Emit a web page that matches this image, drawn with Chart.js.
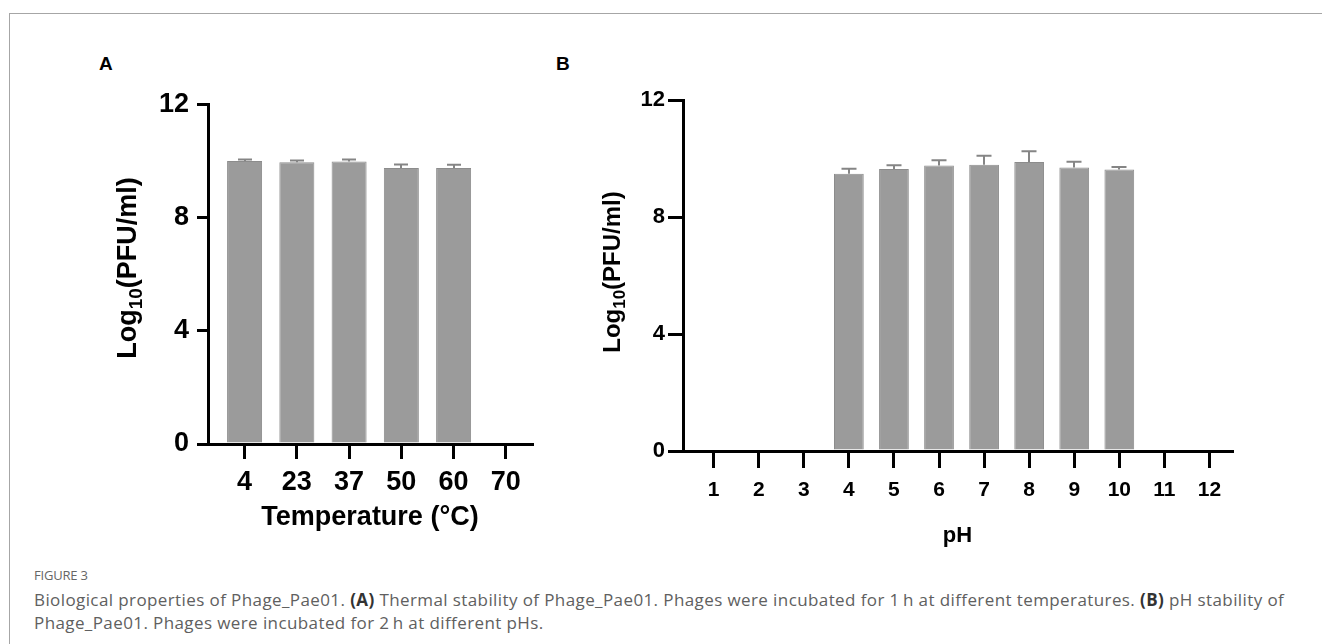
<!DOCTYPE html>
<html>
<head>
<meta charset="utf-8">
<title>Figure 3</title>
<script src="https://cdn.jsdelivr.net/npm/chart.js@4.4.1/dist/chart.umd.min.js"></script>
<style>
  html, body { margin: 0; padding: 0; background: #fff; }
  body { width: 1322px; height: 644px; position: relative; overflow: hidden; }
  .frame { position: absolute; left: 9px; top: 13px; right: -2px; bottom: -2px;
           border-top: 1px solid #a6a6a6; border-left: 1px solid #a6a6a6; }
  .panel-tag { position: absolute; font: bold 19px 'Liberation Sans', Arial, sans-serif; color: #000; }
  .chart-box { position: absolute; }
  .fig-no { position: absolute; left: 34px; top: 566px; font: 13px 'Open Sans', sans-serif;
            color: #666; letter-spacing: -0.2px; }
  .caption { position: absolute; left: 34px; top: 588px; width: 1270px; margin: 0;
             font: 17px/23px 'Open Sans', sans-serif; letter-spacing: 0.4px; color: #606060; }
  .caption b { color: #333; }
</style>
</head>
<body>
<div class="frame"></div>
<div class="panel-tag" style="left:99px; top:53px;">A</div>
<div class="panel-tag" style="left:556px; top:53px;">B</div>

<div class="chart-box" style="left:100px; top:80px; width:445px; height:460px;">
  <canvas id="tempChart"></canvas>
</div>
<div class="chart-box" style="left:560px; top:80px; width:690px; height:470px;">
  <canvas id="phChart"></canvas>
</div>

<div class="fig-no">FIGURE 3</div>
<p class="caption">Biological properties of Phage_Pae01. <b>(A)</b> Thermal stability of Phage_Pae01. Phages were incubated for 1&#8201;h at different temperatures. <b>(B)</b> pH stability of Phage_Pae01. Phages were incubated for 2&#8201;h at different pHs.</p>

<script>
// values (mean log10 PFU/ml, upper SD)
const tempLabels = ['4', '23', '37', '50', '60', '70'];
const tempMeans = [9.99, 9.95, 9.98, 9.75, 9.75, 0];
const tempErrors = [0.06, 0.06, 0.07, 0.12, 0.11, 0];

const phLabels = ['1', '2', '3', '4', '5', '6', '7', '8', '9', '10', '11', '12'];
const phMeans = [0, 0, 0, 9.48, 9.64, 9.76, 9.79, 9.88, 9.69, 9.62, 0, 0];
const phErrors = [0, 0, 0, 0.17, 0.13, 0.18, 0.30, 0.37, 0.20, 0.09, 0, 0];

const yTicks = [0, 4, 8, 12];

const FONT = "'Liberation Sans', Arial, sans-serif";
const BAR_FILL = '#9b9b9b';
const BAR_EDGE = '#8c8c8c';
const ERR_COLOR = '#858585';

// upper error bars, positioned through the chart's own scales
const errorBars = {
  id: 'errorBars',
  afterDatasetsDraw(chart, args, opts) {
    const { ctx } = chart;
    const meta = chart.getDatasetMeta(0);
    const yScale = chart.scales.y;
    ctx.save();
    ctx.strokeStyle = ERR_COLOR;
    ctx.lineWidth = 2;
    opts.errors.forEach((err, i) => {
      if (!err) return;
      const bar = meta.data[i];
      const mean = chart.data.datasets[0].data[i].y;
      const yTop = yScale.getPixelForValue(mean + err);
      const x = Math.round(bar.x);
      ctx.beginPath();
      ctx.moveTo(x, bar.y);
      ctx.lineTo(x, yTop);
      ctx.moveTo(x - opts.cap / 2, yTop);
      ctx.lineTo(x + opts.cap / 2, yTop);
      ctx.stroke();
    });
    ctx.restore();
  }
};

// rotated y title with subscript "10"
const yTitle = {
  id: 'yTitle',
  afterDraw(chart, args, opts) {
    const { ctx, chartArea } = chart;
    const size = opts.size;
    const subSize = Math.round(size * 0.72);
    const main = `bold ${size}px ${FONT}`;
    const sub = `bold ${subSize}px ${FONT}`;
    ctx.save();
    ctx.font = main;
    const w1 = ctx.measureText('Log').width;
    const w3 = ctx.measureText('(PFU/ml)').width;
    ctx.font = sub;
    const w2 = ctx.measureText('10').width;
    const total = w1 + w2 + w3;
    ctx.translate(chartArea.left - opts.offset, opts.centerY);
    ctx.rotate(-Math.PI / 2);
    ctx.fillStyle = '#000';
    ctx.textBaseline = 'alphabetic';
    const base = size * 0.36;
    let x = -total / 2;
    ctx.font = main;
    ctx.fillText('Log', x, base);
    x += w1;
    ctx.font = sub;
    ctx.fillText('10', x, base + size * 0.22);
    x += w2;
    ctx.font = main;
    ctx.fillText('(PFU/ml)', x, base);
    ctx.restore();
  }
};

function makeChart(id, labels, means, errors, cfg) {
  const points = means.map((v, i) => ({ x: i + 1, y: v }));
  return new Chart(document.getElementById(id), {
    type: 'bar',
    data: {
      datasets: [{
        data: points,
        backgroundColor: BAR_FILL,
        borderColor: BAR_EDGE,
        borderWidth: 1,
        categoryPercentage: 1,
        barPercentage: cfg.barPct
      }]
    },
    options: {
      responsive: true,
      maintainAspectRatio: false,
      animation: false,
      layout: { padding: cfg.padding },
      plugins: {
        legend: { display: false },
        tooltip: { enabled: false },
        errorBars: { errors: errors, cap: cfg.cap },
        yTitle: { size: cfg.yTitleSize, offset: cfg.yTitleOffset, centerY: cfg.yTitleY }
      },
      scales: {
        x: {
          type: 'linear',
          min: cfg.xMin,
          max: labels.length + 0.5,
          offset: false,
          afterBuildTicks: (scale) => { scale.ticks = labels.map((l, i) => ({ value: i + 1 })); },
          afterFit: (scale) => { scale.height = cfg.xHeight; },
          grid: { offset: false, drawOnChartArea: false, drawTicks: true, tickLength: cfg.xTickLen,
                  tickWidth: 3, tickColor: '#000', lineWidth: 3, color: '#000' },
          border: { display: true, color: '#000', width: 3 },
          ticks: {
            autoSkip: false, maxRotation: 0, padding: cfg.xTickPad, color: '#000',
            font: { family: FONT, weight: 'bold', size: cfg.xTickSize },
            callback: (v) => labels[v - 1]
          },
          title: {
            display: true, text: cfg.xTitle, color: '#000',
            font: { family: FONT, weight: 'bold', size: cfg.xTitleSize },
            padding: { top: 0, bottom: cfg.xTitlePad }
          }
        },
        y: {
          min: 0,
          max: 12,
          afterBuildTicks: (scale) => { scale.ticks = yTicks.map(v => ({ value: v })); },
          afterFit: (scale) => { scale.width = cfg.yWidth; },
          grid: { drawOnChartArea: false, drawTicks: true, tickLength: cfg.yTickLen,
                  tickWidth: 3, tickColor: '#000', lineWidth: 3, color: '#000' },
          border: { display: true, color: '#000', width: 3 },
          ticks: {
            padding: cfg.yTickPad, color: '#000',
            font: { family: FONT, weight: 'bold', size: cfg.yTickSize }
          }
        }
      }
    },
    plugins: [errorBars, yTitle]
  });
}

makeChart('tempChart', tempLabels, tempMeans, tempErrors, {
  barPct: 0.67, cap: 14, xMin: 0.3,
  padding: { top: 24, right: 13, left: 0, bottom: 0 },
  xHeight: 96, xTickLen: 15, xTickPad: 7, xTickSize: 27,
  xTitle: 'Temperature (°C)', xTitleSize: 27, xTitlePad: 6,
  yWidth: 108, yTickLen: 11, yTickPad: 8, yTickSize: 27,
  yTitleSize: 27, yTitleOffset: 82, yTitleY: 188
});

makeChart('phChart', phLabels, phMeans, phErrors, {
  barPct: 0.66, cap: 15, xMin: 0.32,
  padding: { top: 20, right: 18, left: 0, bottom: 0 },
  xHeight: 99, xTickLen: 17, xTickPad: 10, xTickSize: 21,
  xTitle: 'pH', xTitleSize: 22, xTitlePad: 1,
  yWidth: 123, yTickLen: 15, yTickPad: 3, yTickSize: 22,
  yTitleSize: 24, yTitleOffset: 72, yTitleY: 192
});
</script>
</body>
</html>
